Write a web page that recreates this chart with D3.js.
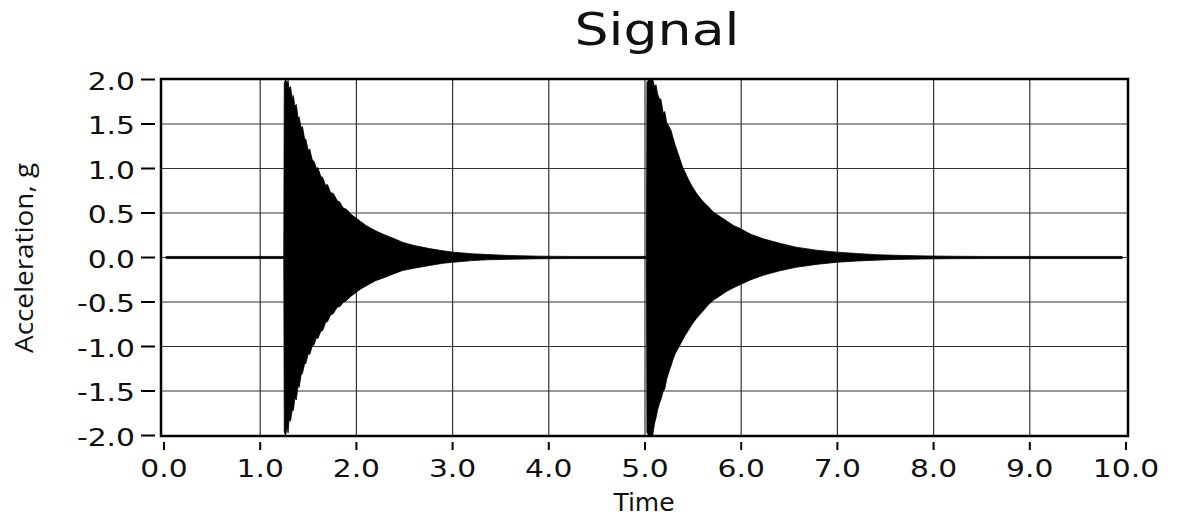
<!DOCTYPE html>
<html>
<head>
<meta charset="utf-8">
<script src="https://cdn.jsdelivr.net/npm/d3@7/dist/d3.min.js"></script>
<style>
  html, body { margin: 0; padding: 0; background: #fff; }
  svg { display: block; }
</style>
</head>
<body>
<svg id="chart" width="1177" height="519"></svg>
<script>
// ---- Data ----
const xTicks = [0, 1, 2, 3, 4, 5, 6, 7, 8, 9, 10];
const xTickLabels = ["0.0", "1.0", "2.0", "3.0", "4.0", "5.0", "6.0", "7.0", "8.0", "9.0", "10.0"];
const yTicks = [2.0, 1.5, 1.0, 0.5, 0.0, -0.5, -1.0, -1.5, -2.0];
const yTickLabels = ["2.0", "1.5", "1.0", "0.5", "0.0", "-0.5", "-1.0", "-1.5", "-2.0"];

// Signal envelope: time (s), upper and lower extremes of the acceleration (g)
const sigTime = [
  0.02, 1.245,
  1.25, 1.265, 1.28, 1.29, 1.30, 1.315, 1.335, 1.345, 1.36, 1.375, 1.395, 1.405, 1.425, 1.44, 1.46, 1.474,
  1.50, 1.515, 1.54, 1.56, 1.585, 1.60, 1.63, 1.65, 1.68, 1.70, 1.73, 1.76, 1.80, 1.83, 1.86, 1.90, 1.95,
  2.00, 2.05, 2.10, 2.15, 2.20, 2.28, 2.35, 2.42, 2.48, 2.60, 2.76, 2.90, 3.01, 3.20, 3.35, 3.60, 3.90, 4.20,
  5.015,
  5.02, 5.04, 5.08, 5.10, 5.115, 5.13, 5.15, 5.165, 5.19, 5.205, 5.225, 5.25, 5.27, 5.29, 5.315, 5.34, 5.365,
  5.39, 5.42, 5.45, 5.49, 5.53, 5.58, 5.62, 5.66, 5.71, 5.78, 5.85, 5.92,
  6.00, 6.10, 6.23, 6.40, 6.57, 6.80, 7.00, 7.20, 7.40, 7.60, 7.90, 8.20, 8.50, 9.96
];
const sigUpper = [
  0.012, 0.012,
  1.96, 2.00, 1.95, 1.99, 1.90, 1.92, 1.78, 1.82, 1.70, 1.72, 1.56, 1.58, 1.46, 1.47, 1.34, 1.33,
  1.20, 1.22, 1.10, 1.08, 1.00, 1.01, 0.91, 0.90, 0.81, 0.82, 0.73, 0.72, 0.64, 0.62, 0.56, 0.54, 0.48,
  0.44, 0.40, 0.36, 0.33, 0.30, 0.26, 0.23, 0.20, 0.17, 0.135, 0.10, 0.075, 0.06, 0.042, 0.034, 0.022, 0.015, 0.012,
  0.012,
  1.97, 2.00, 2.00, 1.92, 1.94, 1.84, 1.78, 1.78, 1.62, 1.64, 1.52, 1.47, 1.43, 1.35, 1.26, 1.18, 1.10,
  1.02, 0.95, 0.88, 0.80, 0.73, 0.66, 0.61, 0.57, 0.51, 0.46, 0.41, 0.36,
  0.32, 0.26, 0.21, 0.16, 0.116, 0.08, 0.06, 0.045, 0.032, 0.025, 0.018, 0.014, 0.012, 0.012
];
const sigLower = [
  -0.012, -0.012,
  -1.96, -2.00, -1.90, -1.97, -1.82, -1.84, -1.70, -1.72, -1.58, -1.60, -1.43, -1.46, -1.32, -1.30, -1.20, -1.19,
  -1.08, -1.09, -1.00, -0.98, -0.90, -0.91, -0.83, -0.82, -0.73, -0.72, -0.65, -0.63, -0.56, -0.55, -0.51, -0.48, -0.43,
  -0.39, -0.35, -0.32, -0.29, -0.26, -0.23, -0.20, -0.17, -0.146, -0.12, -0.09, -0.065, -0.053, -0.035, -0.026, -0.02, -0.014, -0.012,
  -0.012,
  -1.97, -2.00, -2.00, -1.86, -1.80, -1.72, -1.64, -1.60, -1.50, -1.48, -1.37, -1.28, -1.22, -1.15, -1.08, -1.03, -0.98,
  -0.93, -0.87, -0.82, -0.75, -0.69, -0.63, -0.58, -0.53, -0.48, -0.43, -0.38, -0.34,
  -0.30, -0.25, -0.20, -0.15, -0.11, -0.075, -0.053, -0.04, -0.03, -0.022, -0.016, -0.013, -0.012, -0.012
];

// ---- Layout ----
const svg = d3.select("#chart");
const frame = { left: 161, right: 1128, top: 79, bottom: 436 };
const x = d3.scaleLinear().domain([0, 10]).range([164, 1126]);
const y = d3.scaleLinear().domain([-2, 2]).range([435.5, 79.5]);

// Grid
const g = svg.append("g");
g.selectAll("line.vgrid").data(xTicks.filter(d => d > 0 && d < 10)).enter()
  .append("line").attr("class", "vgrid")
  .attr("x1", d => x(d)).attr("x2", d => x(d))
  .attr("y1", frame.top).attr("y2", frame.bottom)
  .attr("stroke", "#333").attr("stroke-width", 1.2);
g.selectAll("line.hgrid").data(yTicks.filter(d => d > -2 && d < 2)).enter()
  .append("line").attr("class", "hgrid")
  .attr("x1", frame.left).attr("x2", frame.right)
  .attr("y1", d => y(d)).attr("y2", d => y(d))
  .attr("stroke", "#333").attr("stroke-width", 1.2);

// Signal
const pts = sigTime.map((t, i) => ({ t, hi: sigUpper[i], lo: sigLower[i] }));
const area = d3.area()
  .x(d => x(d.t))
  .y0(d => y(d.lo))
  .y1(d => y(d.hi));
svg.append("clipPath").attr("id", "clip").append("rect")
  .attr("x", frame.left).attr("y", frame.top)
  .attr("width", frame.right - frame.left).attr("height", frame.bottom - frame.top);
svg.append("path").datum(pts)
  .attr("clip-path", "url(#clip)")
  .attr("d", area)
  .attr("fill", "#000")
  .attr("stroke", "#000")
  .attr("stroke-width", 0.8)
  .attr("stroke-linejoin", "miter");

// Frame
svg.append("rect")
  .attr("x", frame.left).attr("y", frame.top)
  .attr("width", frame.right - frame.left).attr("height", frame.bottom - frame.top)
  .attr("fill", "none").attr("stroke", "#000").attr("stroke-width", 2.5);

// Y axis ticks + labels
const yAxis = svg.append("g");
yAxis.selectAll("line").data(yTicks).enter().append("line")
  .attr("x1", 141).attr("x2", 155)
  .attr("y1", d => y(d)).attr("y2", d => y(d))
  .attr("stroke", "#000").attr("stroke-width", 2);
const yLab = yAxis.selectAll("text").data(yTicks).enter().append("text")
  .attr("x", 135).attr("y", d => y(d) + 10)
  .attr("text-anchor", "end")
  .attr("font-family", "DejaVu Sans, Verdana, sans-serif")
  .attr("font-size", 24).attr("fill", "#111")
  .text((d, i) => yTickLabels[i]);

// X axis ticks + labels
const xAxis = svg.append("g");
xAxis.selectAll("line").data(xTicks).enter().append("line")
  .attr("x1", d => x(d)).attr("x2", d => x(d))
  .attr("y1", 442).attr("y2", 450)
  .attr("stroke", "#000").attr("stroke-width", 2);
const xLab = xAxis.selectAll("text").data(xTicks).enter().append("text")
  .attr("x", d => x(d)).attr("y", 477)
  .attr("text-anchor", "middle")
  .attr("font-family", "DejaVu Sans, Verdana, sans-serif")
  .attr("font-size", 24).attr("fill", "#111")
  .text((d, i) => xTickLabels[i]);

// Widen tick labels like the reference's wide face
[yLab, xLab].forEach(sel => sel.each(function () {
  const w = this.getComputedTextLength();
  d3.select(this).attr("textLength", w * 1.24).attr("lengthAdjust", "spacingAndGlyphs");
}));

// Title
svg.append("text")
  .attr("x", 657).attr("y", 45)
  .attr("text-anchor", "middle")
  .attr("font-family", "DejaVu Sans, Verdana, sans-serif")
  .attr("font-size", 45).attr("fill", "#111")
  .attr("textLength", 165).attr("lengthAdjust", "spacingAndGlyphs")
  .text("Signal");

// X axis title
svg.append("text")
  .attr("x", 644).attr("y", 511)
  .attr("text-anchor", "middle")
  .attr("font-family", "DejaVu Sans, Verdana, sans-serif")
  .attr("font-size", 25).attr("fill", "#111")
  .text("Time");

// Y axis title
svg.append("text")
  .attr("transform", "translate(33,258) rotate(-90)")
  .attr("text-anchor", "middle")
  .attr("font-family", "Open Sans, Noto Sans, sans-serif")
  .attr("font-size", 25).attr("fill", "#111")
  .attr("textLength", 190).attr("lengthAdjust", "spacingAndGlyphs")
  .text("Acceleration, g");
</script>
</body>
</html>
